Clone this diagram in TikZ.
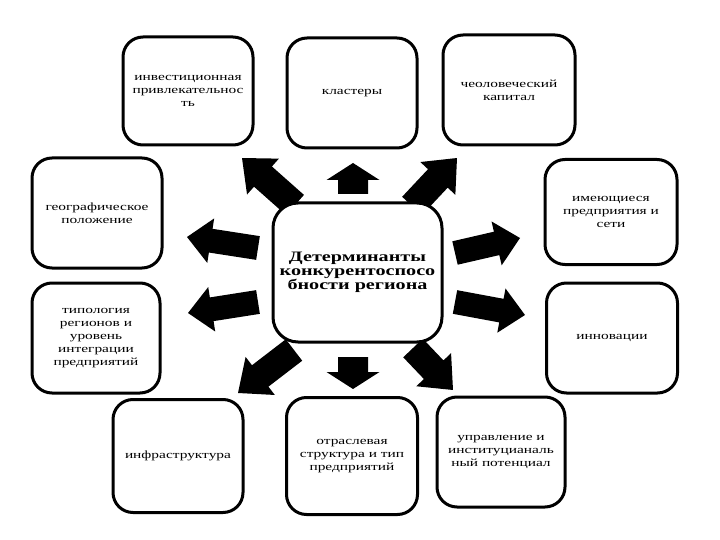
\documentclass[tikz,border=0pt]{standalone}
\usepackage{fontspec}
\setmainfont{Liberation Serif}[FakeStretch=1.4]
\usetikzlibrary{calc}
\newcommand\blockarr[5]{%
  \path (#1); \pgfgetlastxy{\bax}{\bay}%
  \path (#2); \pgfgetlastxy{\bbx}{\bby}%
  \pgfmathsetmacro\barang{atan2(\bby-\bay,\bbx-\bax)}%
  \pgfmathsetmacro\barlen{veclen(\bbx-\bax,\bby-\bay)}%
  \fill[black,shift={(#1)},rotate=\barang] (0,{-#3/2}) -- ({\barlen-#5},{-#3/2}) -- ({\barlen-#5},{-#4/2}) -- (\barlen,0) -- ({\barlen-#5},{#4/2}) -- ({\barlen-#5},{#3/2}) -- (0,{#3/2}) -- cycle;%
}
\begin{document}
\begin{tikzpicture}[x=1pt,y=-1pt,
  box/.style={draw=black, line width=3pt, rounded corners=20pt, fill=white, align=center,
    inner sep=0pt, font=\fontsize{11}{12.8}\selectfont},
  centerbox/.style={box, rounded corners=25pt, font=\fontsize{14.4}{14}\selectfont\bfseries}]
\useasboundingbox[fill=white] (0,0) rectangle (720,540);

% arrow end points
\coordinate (ulS) at (295,205); \coordinate (ulT) at (242,158);
\coordinate (uS) at (353,194);  \coordinate (uT) at (353,163);
\coordinate (urS) at (412,206); \coordinate (urT) at (457,158);
\coordinate (luS) at (258,248); \coordinate (luT) at (187,237);
\coordinate (llS) at (258,302); \coordinate (llT) at (188,313);
\coordinate (ruS) at (455,253); \coordinate (ruT) at (520,238);
\coordinate (rlS) at (455,302); \coordinate (rlT) at (525,315);
\coordinate (dlS) at (294,350); \coordinate (dlT) at (238,393);
\coordinate (dS) at (353,357);  \coordinate (dT) at (353,389);
\coordinate (drS) at (413,348); \coordinate (drT) at (453,390);

\blockarr{ulS}{ulT}{27}{48}{28}
\blockarr{uS}{uT}{30}{53}{17}
\blockarr{urS}{urT}{27}{48}{28}
\blockarr{luS}{luT}{24}{45}{24}
\blockarr{llS}{llT}{24}{45}{24}
\blockarr{ruS}{ruT}{24}{45}{24}
\blockarr{rlS}{rlT}{24}{45}{24}
\blockarr{dlS}{dlT}{27}{48}{28}
\blockarr{dS}{dT}{30}{53}{17}
\blockarr{drS}{drT}{27}{48}{28}

% boxes
\node[centerbox, minimum width=169pt, minimum height=139pt] (det) at (357.5,272.5)
  {Детерминанты\\конкурентоспосо\\бности региона};
\node[box, minimum width=130pt, minimum height=108pt] (inv) at (188,91)
  {инвестиционная\\привлекательнос\\ть};
\node[box, minimum width=130pt, minimum height=110pt] (kl) at (352,93) {кластеры};
\node[box, minimum width=132pt, minimum height=110pt] (hum) at (509,90)
  {чеоловеческий\\капитал};
\node[box, minimum width=130pt, minimum height=110pt] (geo) at (97,213)
  {географическое\\положение};
\node[box, minimum width=132pt, minimum height=105pt] (ent) at (611,212)
  {имеющиеся\\предприятия и\\сети};
\node[box, minimum width=128pt, minimum height=110pt] (typ) at (96,338)
  {типология\\регионов и\\уровень\\интеграции\\предприятий};
\node[box, minimum width=131pt, minimum height=110pt] (inn) at (612,338) {инновации};
\node[box, minimum width=130pt, minimum height=113pt] (inf) at (178,456) {инфраструктура};
\node[box, minimum width=131pt, minimum height=117pt] (ind) at (352,456)
  {отраслевая\\структура и тип\\предприятий};
\node[box, minimum width=128pt, minimum height=110pt] (man) at (501,452)
  {управление и\\институцианаль\\ный потенциал};
\end{tikzpicture}
\end{document}
